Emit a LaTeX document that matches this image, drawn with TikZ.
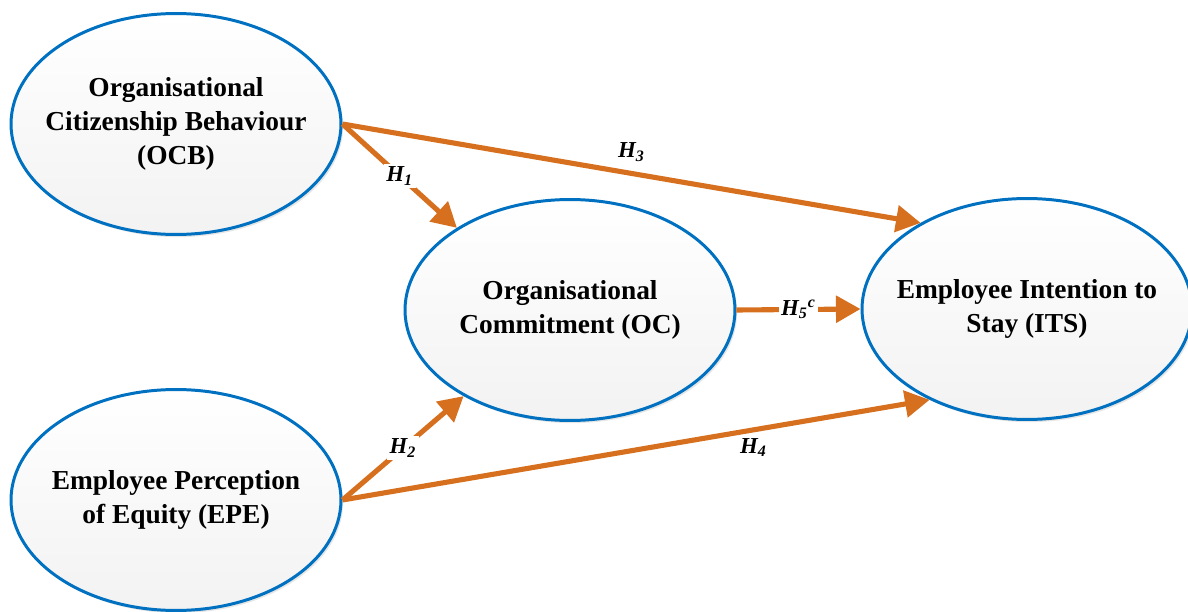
\documentclass[tikz,border=0pt]{standalone}
\usepackage{fontspec}
\setmainfont{Liberation Serif}
\usetikzlibrary{shapes.geometric}
\usetikzlibrary{arrows.meta}
\usetikzlibrary{shadows}
\definecolor{ovalblue}{RGB}{0,112,192}
\definecolor{hyporange}{RGB}{214,112,30}

\begin{document}
\begin{tikzpicture}[x=0.02cm,y=-0.02cm,
  construct/.style={ellipse,draw=ovalblue,line width=1.7pt,top color=white,bottom color=gray!10,
    minimum width=6.6cm,minimum height=4.42cm,inner sep=0pt,
    drop shadow={shadow xshift=1.2pt,shadow yshift=-1.5pt,opacity=0.2}},
  ctext/.style={align=center,font=\fontsize{15.6}{19.2}\selectfont\bfseries},
  hyppath/.style={draw=hyporange,line width=2.9pt,-{Triangle[length=14pt,width=15pt]}},
  hyp/.style={fill=white,inner sep=1.5pt,font=\fontsize{13}{15}\selectfont\bfseries\itshape}]
  \useasboundingbox (0,0) rectangle (1188,612);
  % constructs
  \node[construct,label={[ctext,name=OCBtext]center:{Organisational\\Citizenship Behaviour\\(OCB)}}] (OCB) at (176,124) {};
  \node[construct,label={[ctext,name=EPEtext]center:{Employee Perception\\of Equity (EPE)}}] (EPE) at (176,500) {};
  \node[construct,label={[ctext,name=OCtext]center:{Organisational\\Commitment (OC)}}] (OC) at (570,310) {};
  \node[construct,label={[ctext,name=ITStext]center:{Employee Intention to\\Stay (ITS)}}] (ITS) at (1027,309) {};
  % hypotheses
  \draw[hyppath] (OCB.east) -- node[hyp] (h1) {H\textsubscript{1}} (OC.144);
  \draw[hyppath] (OCB.east) -- node[hyp,fill=none,above=4pt] (h3) {H\textsubscript{3}} (ITS.141);
  \draw[hyppath] (EPE.east) -- node[hyp] (h2) {H\textsubscript{2}} (OC.219);
  \draw[hyppath] (EPE.east) -- node[hyp,fill=none,pos=0.7,below=2pt] (h4) {H\textsubscript{4}} (ITS.223);
  \draw[hyppath] (OC.east) -- node[hyp] (h5) {H\textsubscript{5}\textsuperscript{c}} (ITS.west);
\end{tikzpicture}
\end{document}
